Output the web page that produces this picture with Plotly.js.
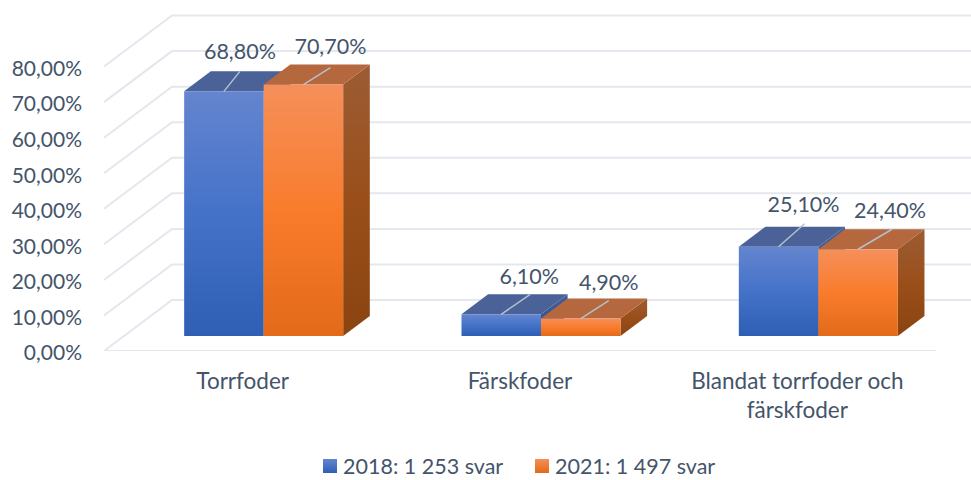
<!DOCTYPE html>
<html>
<head>
<meta charset="utf-8">
<script src="https://cdn.plot.ly/plotly-3.0.1.min.js"></script>
<style>html,body{margin:0;padding:0;background:#fff}#chart{width:971px;height:480px}</style>
</head>
<body>
<div id="chart"></div>
<script>
// ---- data ----
const categories = ['Torrfoder', 'Färskfoder', 'Blandat torrfoder och<br>färskfoder'];
const seriesNames = ['2018: 1 253 svar', '2021: 1 497 svar'];
const values2018 = [68.8, 6.1, 25.1];
const values2021 = [70.7, 4.9, 24.4];
const labels2018 = ['68,80%', '6,10%', '25,10%'];
const labels2021 = ['70,70%', '4,90%', '24,40%'];
const yTicks = [0, 10, 20, 30, 40, 50, 60, 70, 80];
const yTickLabels = ['0,00%', '10,00%', '20,00%', '30,00%', '40,00%', '50,00%', '60,00%', '70,00%', '80,00%'];

// ---- oblique projection, expressed in axis units ----
const PX_X = 277.33, PX_Y = 3.556;
const depthX = 68 / PX_X, depthY = 51 / PX_Y;
const barW = 79.5 / PX_X;
const barShift = 1 / PX_X;
const dFront = 0.294, dBack = 0.686;
const X = (x, d) => x + d * depthX;
const Y = (v, d) => v + d * depthY;

const GRID = '#E4E7ED', TEXT = '#44546A', LEADER = '#B4C0CC';
const FONT = 'Lato, "Open Sans", sans-serif';

const traces = [];

// gridlines: back wall, left wall, floor front
const gx = [], gy = [];
yTicks.forEach(v => {
  gx.push(X(-0.5, 0), X(-0.5, 1), X(2.5, 1), null);
  gy.push(Y(v, 0), Y(v, 1), Y(v, 1), null);
});
traces.push({x: gx, y: gy, mode: 'lines', line: {color: GRID, width: 2}, hoverinfo: 'skip', showlegend: false});
traces.push({x: [X(-0.5, 0), X(2.5, 0)], y: [0, 0], mode: 'lines', line: {color: GRID, width: 2},
  hoverinfo: 'skip', showlegend: false, cliponaxis: false});

const styles = [
  {front: ['#2E5FB4', '#4472C9', '#6485CF'], side: ['#2F4A85', '#3A5690', '#42609A'], top: '#4A6298'},
  {front: ['#E26A18', '#F97C2C', '#F58F5A'], side: ['#8A4410', '#9A4F1A', '#9C5C34'], top: '#B5683E'}
];

function poly(xs, ys, colors, v) {
  const t = {x: xs, y: ys, mode: 'lines', fill: 'toself', line: {width: 0}, hoverinfo: 'skip', showlegend: false};
  if (Array.isArray(colors)) {
    t.fillcolor = colors[1];
    t.fillgradient = {type: 'vertical', start: v[0], stop: v[1],
      colorscale: [[0, colors[0]], [0.5, colors[1]], [1, colors[2]]]};
  } else {
    t.fillcolor = colors;
  }
  return t;
}

function addBar(xc, v, st) {
  const l = xc, r = xc + barW;
  const b0 = Y(0, dFront), t0 = Y(v, dFront), b1 = Y(0, dBack), t1 = Y(v, dBack);
  traces.push(poly([X(r, dFront), X(r, dBack), X(r, dBack), X(r, dFront)], [b0, b1, t1, t0], st.side, [b0, t1]));
  traces.push(poly([X(l, dFront), X(r, dFront), X(r, dBack), X(l, dBack)], [t0, t0, t1, t1], st.top));
  traces.push(poly([X(l, dFront), X(r, dFront), X(r, dFront), X(l, dFront)], [b0, b0, t0, t0], st.front, [b0, t0]));
}

categories.forEach((c, i) => {
  addBar(i - barW + barShift, values2018[i], styles[0]);
  addBar(i + barShift, values2021[i], styles[1]);
});

// data labels with leader lines (offsets from bar's top-front centre, in pixels)
const leaderOffsetX = [[16, 29, 26], [27, 28, 34]];
const leaderOffsetY = [[20, 20, 23], [17, 18, 20]];
const textOffsetX = [[16, 28, 25], [27, 28, 32]];
const textOffsetY = [[38, 36, 40], [36, 34, 37]];

[values2018, values2021].forEach((vals, s) => {
  const lbls = s === 0 ? labels2018 : labels2021;
  const lx = [], ly = [], tx = [], ty = [];
  vals.forEach((v, i) => {
    const xc = X(i + barShift + (s === 0 ? -barW / 2 : barW / 2), dFront), yc = Y(v, dFront);
    lx.push(xc, xc + leaderOffsetX[s][i] / PX_X, null);
    ly.push(yc, yc + leaderOffsetY[s][i] / PX_Y, null);
    tx.push(xc + textOffsetX[s][i] / PX_X);
    ty.push(yc + textOffsetY[s][i] / PX_Y);
  });
  traces.push({x: lx, y: ly, mode: 'lines', line: {color: LEADER, width: 1.5}, hoverinfo: 'skip', showlegend: false});
  traces.push({x: tx, y: ty, mode: 'text', text: lbls, textposition: 'middle center',
    textfont: {family: FONT, size: 21.5, color: TEXT}, hoverinfo: 'skip', showlegend: false, cliponaxis: false});
});

// legend entries
seriesNames.forEach((n, s) => {
  traces.push({x: [null], y: [null], mode: 'markers', name: n,
    marker: {symbol: 'square', size: 14, color: styles[s].front[2],
      gradient: {type: 'vertical', color: styles[s].front[0]}}});
});

const layout = {
  width: 971, height: 480,
  margin: {l: 104, r: 0, t: 0, b: 129, pad: 0},
  paper_bgcolor: '#fff', plot_bgcolor: 'rgba(0,0,0,0)',
  font: {family: FONT, size: 21, color: TEXT},
  hovermode: false,
  xaxis: {
    range: [-0.5, -0.5 + 867 / PX_X], tickmode: 'array', tickvals: [0, 1, 2], ticktext: categories,
    showgrid: false, zeroline: false, showline: false, ticks: '', ticklabelstandoff: 14,
    tickfont: {family: FONT, size: 22.5, color: TEXT}, fixedrange: true
  },
  yaxis: {
    range: [0, 351 / PX_Y], tickmode: 'array', tickvals: yTicks, ticktext: yTickLabels,
    showgrid: false, zeroline: false, showline: false, ticks: '', ticklabelstandoff: 21,
    ticklabelshift: 2,
    tickfont: {family: FONT, size: 21, color: TEXT}, fixedrange: true
  },
  legend: {
    orientation: 'h', xref: 'container', yref: 'container',
    x: 303 / 971, xanchor: 'left', y: 1 - 466 / 480, yanchor: 'middle',
    font: {family: FONT, size: 21.5, color: TEXT}, entrywidth: 167, entrywidthmode: 'pixels',
    bgcolor: 'rgba(0,0,0,0)', itemclick: false, itemdoubleclick: false
  },
  showlegend: true
};

Plotly.newPlot('chart', traces, layout, {displayModeBar: false, staticPlot: true}).then(() => {
  // bring the legend swatches closer to their text
  document.querySelectorAll('.legendsymbols').forEach(g => g.setAttribute('transform', 'translate(7,0)'));
});
</script>
</body>
</html>
